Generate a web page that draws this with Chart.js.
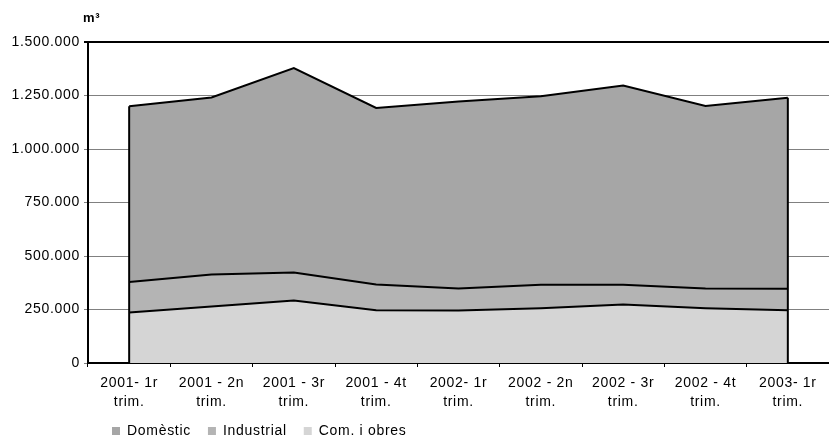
<!DOCTYPE html>
<html>
<head>
<meta charset="utf-8">
<script src="https://cdn.jsdelivr.net/npm/chart.js@4.4.1/dist/chart.umd.min.js"></script>
<style>
  body { margin: 0; background: #fff; }
</style>
</head>
<body>
<canvas id="waterChart" width="829" height="441"></canvas>
<script>
// quarters, two lines each
var quarters = [
    ['2001- 1r', 'trim.'], ['2001 - 2n', 'trim.'], ['2001 - 3r', 'trim.'],
    ['2001 - 4t', 'trim.'], ['2002- 1r', 'trim.'], ['2002 - 2n', 'trim.'],
    ['2002 - 3r', 'trim.'], ['2002 - 4t', 'trim.'], ['2003- 1r', 'trim.']
];

// m3 per quarter
var comIObres = [236000, 264000, 292000, 247000, 245000, 256000, 273000, 256000, 247000];
var industrial = [142000, 150000, 131000, 120000, 103000, 110000, 93000, 92000, 100000];
var domestic = [822000, 827000, 955000, 825000, 874000, 881000, 931000, 853000, 892000];

var yMax = 1500000;
var yStep = 250000;

var FONT = 'Liberation Sans';

// reference text is a bit wider than plain Arial metrics
var spacing = {
    id: 'spacing',
    beforeUpdate: function(chart) { chart.ctx.letterSpacing = '0.7px'; },
    beforeLayout: function(chart) { chart.ctx.letterSpacing = '0.7px'; },
    beforeDraw: function(chart) { chart.ctx.letterSpacing = '0.7px'; }
};

// vertical closing edges of the area at first and last quarter
var edges = {
    id: 'edges',
    afterDatasetsDraw: function(chart) {
        var top = chart.getDatasetMeta(chart.data.datasets.length - 1);
        var y0 = chart.scales.y.getPixelForValue(0);
        var ctx = chart.ctx;
        ctx.save();
        ctx.strokeStyle = '#000';
        ctx.lineWidth = 2;
        [0, top.data.length - 1].forEach(function(i) {
            var p = top.data[i];
            ctx.beginPath();
            ctx.moveTo(p.x, y0);
            ctx.lineTo(p.x, p.y);
            ctx.stroke();
        });
        ctx.restore();
    }
};

// unit label + nudge legend
var unitLabel = {
    id: 'unitLabel',
    afterLayout: function(chart) {
        chart.legend.left += 7;
        chart.legend.top -= 6;
    },
    afterDraw: function(chart) {
        var ctx = chart.ctx;
        ctx.save();
        ctx.fillStyle = '#000';
        ctx.font = 'bold 13px ' + FONT;
        ctx.textAlign = 'left';
        ctx.textBaseline = 'alphabetic';
        ctx.fillText('m³', chart.chartArea.left - 5, chart.chartArea.top - 20);
        ctx.restore();
    }
};

var ctx = document.getElementById('waterChart').getContext('2d');
var waterChart = new Chart(ctx, {
    type: 'line',
    data: {
        labels: quarters,
        datasets: [{
            label: 'Com. i obres',
            data: comIObres,
            backgroundColor: '#d5d5d5',
            borderColor: '#000',
            borderWidth: 2,
            fill: 'origin'
        }, {
            label: 'Industrial',
            data: industrial,
            backgroundColor: '#b4b4b4',
            borderColor: '#000',
            borderWidth: 2,
            fill: '-1'
        }, {
            label: 'Domèstic',
            data: domestic,
            backgroundColor: '#a6a6a6',
            borderColor: '#000',
            borderWidth: 2,
            fill: '-1'
        }]
    },
    options: {
        responsive: false,
        animation: false,
        elements: {
            point: { radius: 0, hoverRadius: 0 },
            line: { tension: 0 }
        },
        layout: {
            padding: { left: 0, right: -2, top: 42, bottom: -13 }
        },
        scales: {
            x: {
                offset: true,
                z: 1,
                border: { color: '#000', width: 2 },
                grid: {
                    offset: true,
                    drawOnChartArea: false,
                    color: '#000',
                    tickLength: 4
                },
                ticks: {
                    color: '#000',
                    padding: 6,
                    maxRotation: 0,
                    autoSkip: false,
                    font: { family: FONT, size: 14, lineHeight: 1.4 }
                },
                afterFit: function(scale) { scale.height = 50; }
            },
            y: {
                stacked: true,
                min: 0,
                max: yMax,
                border: { color: '#000', width: 2 },
                grid: {
                    color: function(c) { return c.tick && c.tick.value === yMax ? '#000' : '#808080'; },
                    lineWidth: function(c) { return c.tick && c.tick.value === yMax ? 2 : 1; },
                    tickLength: 4
                },
                ticks: {
                    stepSize: yStep,
                    color: '#000',
                    padding: 4,
                    font: { family: FONT, size: 14 },
                    callback: function(v) {
                        return String(v).replace(/\B(?=(\d{3})+(?!\d))/g, '.');
                    }
                },
                afterFit: function(scale) { scale.width = 88; }
            }
        },
        plugins: {
            tooltip: { enabled: false },
            legend: {
                position: 'bottom',
                align: 'start',
                fullSize: false,
                reverse: true,
                labels: {
                    boxWidth: 8,
                    boxHeight: 8,
                    padding: 17,
                    color: '#000',
                    font: { family: FONT, size: 14 },
                    generateLabels: function(chart) {
                        var items = Chart.defaults.plugins.legend.labels.generateLabels(chart);
                        items.forEach(function(it) {
                            it.lineWidth = 0;
                            it.strokeStyle = 'rgba(0,0,0,0)';
                        });
                        return items;
                    }
                }
            }
        }
    },
    plugins: [spacing, edges, unitLabel]
});
</script>
</body>
</html>
